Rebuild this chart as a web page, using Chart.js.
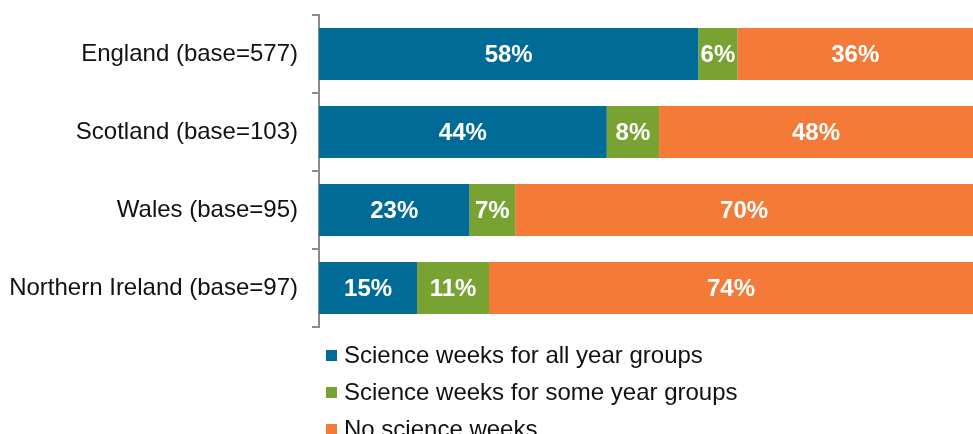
<!DOCTYPE html>
<html>
<head>
<meta charset="utf-8">
<script src="https://cdn.jsdelivr.net/npm/chart.js@4/dist/chart.umd.min.js"></script>
<style>
  html, body { margin: 0; padding: 0; background: #fff; }
  #wrap { position: relative; width: 973px; height: 434px; overflow: hidden; }
  #legend { position: absolute; left: 326px; top: 339px; font: 24px "Liberation Sans", Arial, sans-serif; color: #111; }
  #legend div { height: 37px; line-height: 32px; white-space: nowrap; }
  #legend span { display: inline-block; width: 11px; height: 11px; margin-right: 7px; vertical-align: 2px; }
</style>
</head>
<body>
<div id="wrap">
  <canvas id="myChart" width="973" height="434"></canvas>
  <div id="legend"></div>
</div>
<script>
// categories + series (percent of schools)
const categories = ['England (base=577)', 'Scotland (base=103)', 'Wales (base=95)', 'Northern Ireland (base=97)'];
const allGroups = [58, 44, 23, 15];
const someGroups = [6, 8, 7, 11];
const noWeeks = [36, 48, 70, 74];
const seriesNames = ['Science weeks for all year groups', 'Science weeks for some year groups', 'No science weeks'];
const colours = ['#006B97', '#78A232', '#F37A37'];

const data = {
  labels: categories,
  datasets: [
    { label: seriesNames[0], data: allGroups, backgroundColor: colours[0] },
    { label: seriesNames[1], data: someGroups, backgroundColor: colours[1] },
    { label: seriesNames[2], data: noWeeks, backgroundColor: colours[2] }
  ]
};

//----value labels inside the bars
const barLabels = {
  id: 'barLabels',
  afterDatasetsDraw(chart) {
    const { ctx } = chart;
    ctx.save();
    ctx.font = 'bold 24px "Liberation Sans", Arial, sans-serif';
    ctx.fillStyle = '#fff';
    ctx.textAlign = 'center';
    ctx.textBaseline = 'middle';
    chart.data.datasets.forEach((ds, i) => {
      chart.getDatasetMeta(i).data.forEach((bar, j) => {
        const mid = (bar.x + bar.base) / 2;
        ctx.fillText(ds.data[j] + '%', mid, bar.y + 1);
      });
    });
    ctx.restore();
  }
};

const config = {
  type: 'bar',
  data,
  options: {
    responsive: false,
    animation: false,
    indexAxis: 'y',
    layout: { padding: { top: 15, bottom: 107, left: 0, right: 0 } },
    datasets: { bar: { categoryPercentage: 1, barPercentage: 0.667 } },
    scales: {
      x: { stacked: true, min: 0, max: 100, display: false },
      y: {
        stacked: true,
        afterFit(scale) {
          scale.width = 319;
          scale.paddingTop = 0;
          scale.paddingBottom = 0;
        },
        border: { color: '#8c8c8c', width: 2 },
        grid: { drawOnChartArea: false, offset: true, tickLength: 7, color: '#8c8c8c', lineWidth: 2 },
        ticks: { color: '#111', padding: 14, font: { size: 24, family: '"Liberation Sans", Arial, sans-serif' } }
      }
    },
    plugins: { legend: { display: false }, tooltip: { enabled: false } }
  },
  plugins: [barLabels]
};

const myChart = new Chart(document.getElementById('myChart'), config);

// legend as a vertical list
const lg = document.getElementById('legend');
seriesNames.forEach((n, i) => {
  const row = document.createElement('div');
  row.innerHTML = '<span style="background:' + colours[i] + '"></span>' + n;
  lg.appendChild(row);
});
</script>
</body>
</html>
